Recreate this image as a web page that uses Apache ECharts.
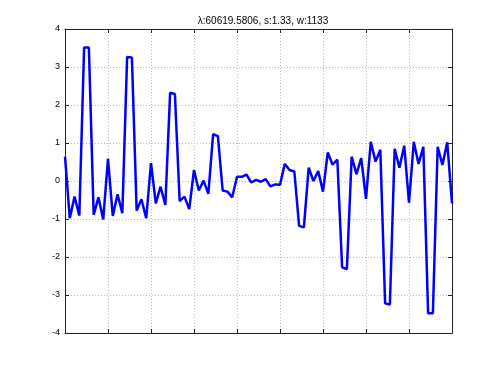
<!DOCTYPE html>
<html>
<head>
<meta charset="utf-8">
<script src="https://cdn.jsdelivr.net/npm/echarts@6/dist/echarts.min.js"></script>
<style>html,body{margin:0;padding:0;background:#fff}#c{width:500px;height:375px}</style>
</head>
<body>
<div id="c"></div>
<script>
const titleText = 'λ:60619.5806, s:1.33, w:1133';
const values = [
  0.64, -0.98, -0.41, -0.91, 3.51, 3.51, -0.89, -0.43, -1.01, 0.58,
  -0.92, -0.35, -0.85, 3.26, 3.25, -0.78, -0.48, -0.98, 0.47, -0.59,
  -0.15, -0.63, 2.32, 2.29, -0.53, -0.41, -0.74, 0.29, -0.25, 0.01,
  -0.34, 1.23, 1.18, -0.25, -0.28, -0.43, 0.11, 0.11, 0.17, -0.04,
  0.03, -0.02, 0.05, -0.14, -0.09, -0.10, 0.45, 0.29, 0.25, -1.18,
  -1.22, 0.35, 0.00, 0.26, -0.28, 0.75, 0.43, 0.56, -2.27, -2.32,
  0.64, 0.18, 0.60, -0.47, 1.03, 0.51, 0.82, -3.22, -3.25, 0.85,
  0.35, 0.93, -0.57, 1.03, 0.45, 0.90, -3.48, -3.48, 0.90, 0.42,
  1.02, -0.59
];
const categories = values.map((v, i) => String(i + 1));
const yTicks = [-4, -3, -2, -1, 0, 1, 2, 3, 4];
const xGridDivisions = 9;

const font = "'Liberation Sans', Arial, Helvetica, sans-serif";
const axisColor = '#222';
const gridLine = { show: true, lineStyle: { color: '#bbbbbb', type: [1, 2], width: 1 } };

const chart = echarts.init(document.getElementById('c'), null, { renderer: 'canvas' });
chart.setOption({
  animation: false,
  backgroundColor: '#fff',
  title: {
    text: titleText,
    left: 258, top: 11, textAlign: 'center',
    textStyle: { fontFamily: font, fontSize: 10, fontWeight: 'normal', color: '#000' }
  },
  grid: { left: 65, right: 48, top: 29, bottom: 42, containLabel: false },
  xAxis: [
    { type: 'category', data: categories, boundaryGap: false, show: false },
    { type: 'value', min: 0, max: xGridDivisions, interval: 1, position: 'bottom',
      axisLine: { show: true, onZero: false, lineStyle: { color: axisColor, width: 1 } },
      axisTick: { show: true, inside: true, length: 4, lineStyle: { color: axisColor } },
      axisLabel: { show: false }, splitLine: gridLine },
    { type: 'value', min: 0, max: xGridDivisions, interval: 1, position: 'top',
      axisLine: { show: true, onZero: false, lineStyle: { color: axisColor, width: 1 } },
      axisTick: { show: true, inside: true, length: 4, lineStyle: { color: axisColor } },
      axisLabel: { show: false }, splitLine: { show: false } }
  ],
  yAxis: [
    { type: 'value', min: yTicks[0], max: yTicks[yTicks.length - 1], interval: 1, position: 'left',
      axisLine: { show: true, onZero: false, lineStyle: { color: axisColor, width: 1 } },
      axisTick: { show: true, inside: true, length: 4, lineStyle: { color: axisColor } },
      axisLabel: { show: true, margin: 5, fontFamily: font, fontSize: 9, color: '#000' },
      splitLine: gridLine },
    { type: 'value', min: yTicks[0], max: yTicks[yTicks.length - 1], interval: 1, position: 'right',
      axisLine: { show: true, onZero: false, lineStyle: { color: axisColor, width: 1 } },
      axisTick: { show: true, inside: true, length: 4, lineStyle: { color: axisColor } },
      axisLabel: { show: false }, splitLine: { show: false } }
  ],
  series: [{
    type: 'line', data: values, xAxisIndex: 0, yAxisIndex: 0,
    showSymbol: false, symbol: 'none',
    lineStyle: { color: '#0000ff', width: 2.5 },
    clip: true, z: 5
  }]
});
</script>
</body>
</html>
